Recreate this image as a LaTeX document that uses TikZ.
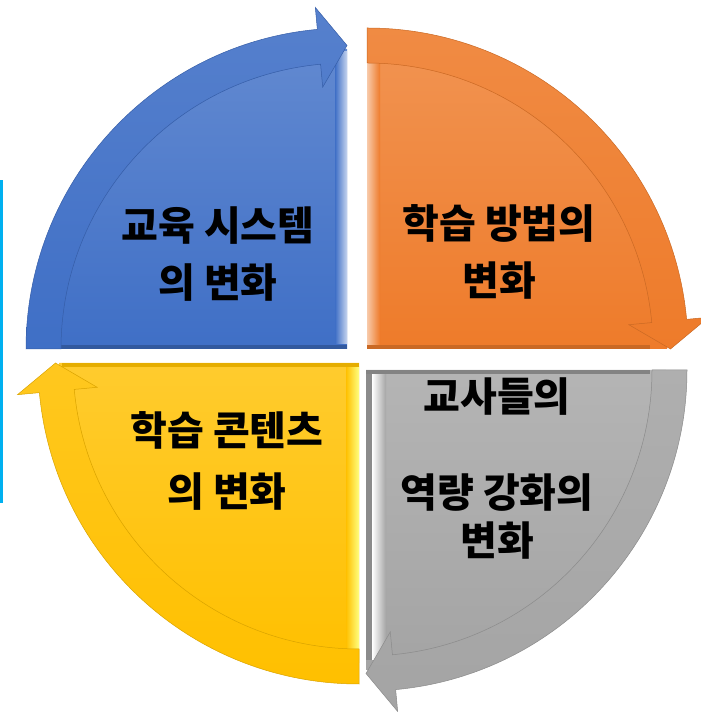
\documentclass[tikz,border=0pt]{standalone}
\usepackage{fontspec}
\newfontfamily\krfont{Noto Sans CJK KR}
\definecolor{qblue}{HTML}{3F6FC6}
\definecolor{qorange}{HTML}{EE7B2A}
\definecolor{qyellow}{HTML}{FFC000}
\definecolor{qgrey}{HTML}{A4A4A4}
\definecolor{qcyan}{HTML}{00B0F0}
\tikzset{qtext/.style={font=\krfont\bfseries\fontsize{40}{57}\selectfont,align=center,text=black}}

\begin{document}
\begin{tikzpicture}[x=1pt,y=1pt]
  \useasboundingbox (0,0) rectangle (701,712); \fill[white] (0,0) rectangle (701,712);
  \fill[qcyan] (0,209) rectangle (3,532);
  \foreach \cx/\cy/\a/\col in {347/363/90/qblue,367/363/0/qorange,359/349/180/qyellow,366/342/270/qgrey} {
    \begin{scope}[shift={(\cx,\cy)}]
      \shade[top color=\col!82!white,bottom color=\col] (0,0) -- (\a:300) arc[start angle=\a,end angle=\a+90,radius=300] -- cycle;
    \end{scope}
  }
  \shade[left color=qblue,right color=qblue!30!white] (335,368) rectangle (347,660); \fill[qblue!80!black] (60,363) rectangle (347,367);
  \shade[left color=qorange!40!white,right color=qorange] (367,367) rectangle (380,660); \fill[qorange!85!black] (367,363) rectangle (650,367);
  \shade[left color=qyellow,right color=yellow!50!white] (346,52) rectangle (359,345); \fill[qyellow!90!black] (62,345) rectangle (359,349);
  \fill[qgrey!85!black] (366,52) rectangle (372,338); \shade[left color=white,right color=qgrey] (372,52) rectangle (386,338);
  \fill[qgrey!80!black] (366,338) rectangle (650,342);
  \foreach \cx/\cy/\a/\col in {347/363/90/qblue,367/363/0/qorange,359/349/180/qyellow,366/342/270/qgrey} {
    \begin{scope}[shift={(\cx,\cy)}]
      \shadedraw[top color=\col!88!white,bottom color=\col,draw=\col!85!black,line width=0.5] (\a+90:286) -- (\a+90:321)
        arc[start angle=\a+90,end angle=\a+5.3,radius=321] -- (\a+5.3:343) -- (\a:303.5) -- (\a+5.3:263) -- (\a+5.3:286)
        arc[start angle=\a+5.3,end angle=\a+90,radius=286] -- cycle;
    \end{scope}
  }
  \node[qtext] (system) at (218,458) {교육 시스템\\의 변화};
  \node[qtext] (method) at (499,460) {학습 방법의\\변화};
  \node[qtext,font=\krfont\bfseries\fontsize{40}{61}\selectfont] (content) at (227,251) {학습 콘텐츠\\의 변화};
  \node[qtext,font=\krfont\bfseries\fontsize{40}{48}\selectfont] (teacher) at (497,243) {교사들의\\[48pt]역량 강화의\\변화};
\end{tikzpicture}
\end{document}
